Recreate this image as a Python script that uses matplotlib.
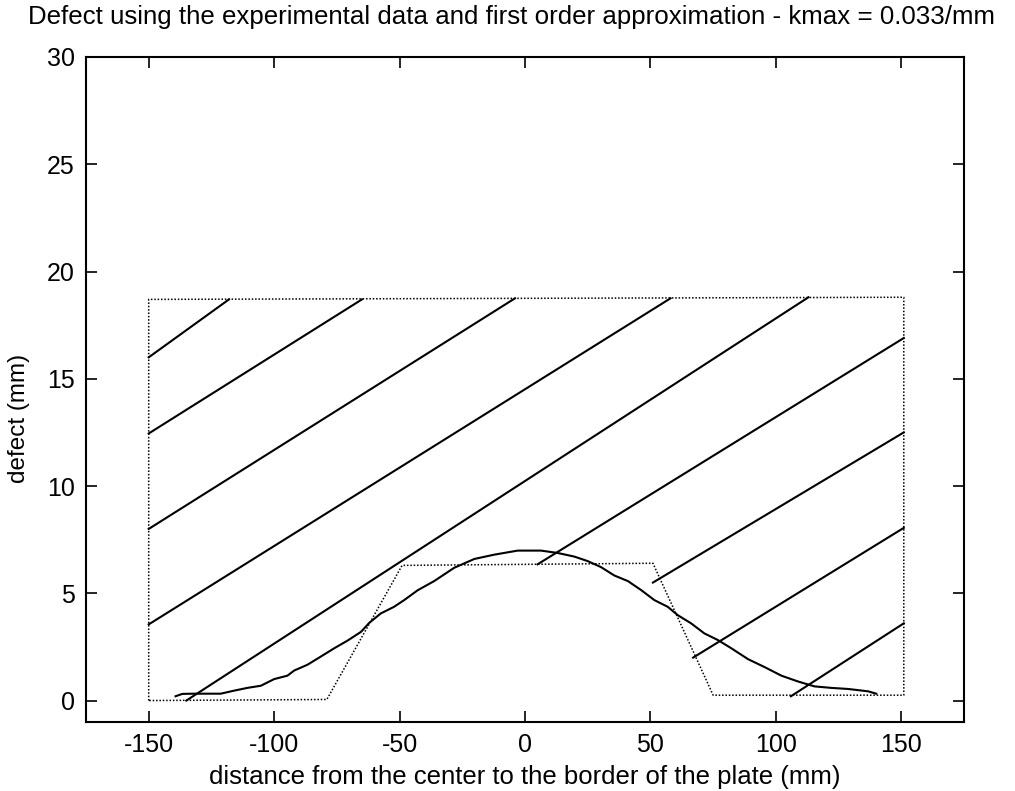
import matplotlib
matplotlib.use("Agg")
import matplotlib.pyplot as plt

plt.rcParams['font.family'] = ['Liberation Sans', 'DejaVu Sans']
plt.rcParams['axes.unicode_minus'] = False

# Measured defect profile across the plate (mm)
curve_x = [-139.3, -136.6, -132.0, -121.3, -116.0, -110.7, -105.3, -100.0, -94.7, -92.0,
           -86.7, -81.4, -76.0, -70.8, -65.4, -62.1, -57.5, -52.2, -48.2, -42.8,
           -36.2, -28.2, -20.2, -12.3, -2.9, 6.4, 13.0, 19.7, 25.0, 30.3,
           35.6, 41.0, 46.3, 51.6, 56.9, 60.9, 66.2, 71.5, 76.9, 82.2,
           88.9, 95.5, 102.2, 108.8, 115.4, 122.1, 128.8, 136.8, 140.0]
curve_y = [0.20, 0.31, 0.32, 0.32, 0.46, 0.59, 0.69, 1.00, 1.16, 1.40,
           1.67, 2.05, 2.44, 2.79, 3.20, 3.62, 4.06, 4.37, 4.68, 5.14,
           5.57, 6.19, 6.60, 6.80, 6.99, 6.99, 6.88, 6.71, 6.50, 6.22,
           5.83, 5.57, 5.15, 4.68, 4.37, 3.98, 3.60, 3.13, 2.82, 2.44,
           1.93, 1.56, 1.16, 0.89, 0.66, 0.59, 0.54, 0.43, 0.32]

# First order approximation of the defect, closed with the admissible region
region_x = [-150, -150, 151, 151, 75, 51, -49, -79, -150]
region_y = [0.0, 18.7, 18.8, 0.25, 0.25, 6.4, 6.3, 0.05, 0.0]

# Characteristic lines: start and end points
char_x0 = [-150, -150, -150, -150, -135, 5, 51, 67, 106]
char_y0 = [16.0, 12.45, 8.0, 3.55, 0.0, 6.35, 5.5, 2.0, 0.2]
char_x1 = [-118, -65, -4, 58, 113, 151, 151, 151, 151]
char_y1 = [18.7, 18.7, 18.75, 18.75, 18.8, 16.9, 12.5, 8.05, 3.6]

x_ticks = [-150, -100, -50, 0, 50, 100, 150]
y_ticks = [0, 5, 10, 15, 20, 25, 30]

fig = plt.figure(figsize=(10.15, 7.91), dpi=100)
ax = fig.add_axes([86 / 1015, 1 - 722 / 791, (964 - 86) / 1015, (722 - 57) / 791])

ax.plot(region_x, region_y, color='black', linestyle=(0, (1, 1.2)), linewidth=1.1)
for xa, ya, xb, yb in zip(char_x0, char_y0, char_x1, char_y1):
    ax.plot([xa, xb], [ya, yb], color='black', linewidth=1.5)
ax.plot(curve_x, curve_y, color='black', linewidth=1.5)

ax.set_xlim(-175, 175)
ax.set_ylim(-1, 30)
ax.set_xticks(x_ticks)
ax.set_yticks(y_ticks)
ax.tick_params(direction='in', length=8, width=1.2, top=True, right=True,
               labelsize=18, pad=8)
for s in ax.spines.values():
    s.set_linewidth(1.5)

fig.text(511 / 1015, 1 - 17 / 791,
         'Defect using the experimental data and first order approximation - kmax = 0.033/mm',
         fontsize=18.6, ha='center', va='center')
ax.set_xlabel('distance from the center to the border of the plate (mm)', fontsize=18.5, labelpad=6)
ax.set_ylabel('defect (mm)', fontsize=17.5)
ax.yaxis.set_label_coords(-0.064, 0.457)

fig.savefig('out.png', dpi=100)
